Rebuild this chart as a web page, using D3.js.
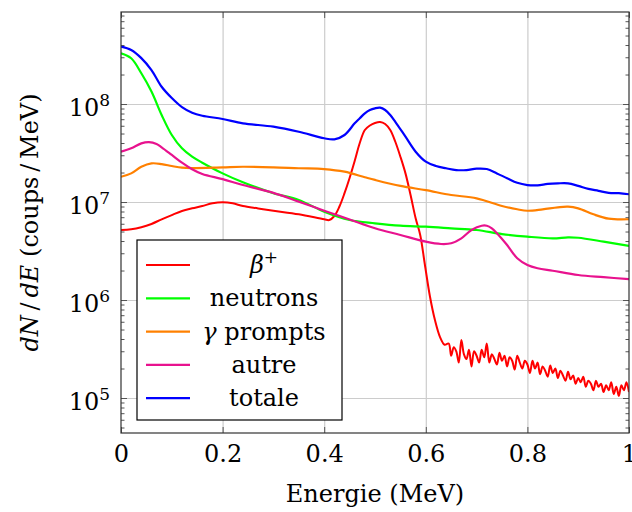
<!DOCTYPE html>
<html><head><meta charset="utf-8">
<script src="https://cdn.jsdelivr.net/npm/d3@7/dist/d3.min.js"></script>
<style>
body{margin:0;background:#fff}
svg{display:block}
text{font-family:"DejaVu Serif",serif;fill:#000}
</style>
</head><body>
<svg id="c" width="632" height="512"></svg>
<script>
// ---- data ----
const seriesLabels = ["β+", "neutrons", "γ prompts", "autre", "totale"];
const seriesColors = ["#ff0000", "#00ff00", "#ff8000", "#e8128e", "#0000ff"];

const betaE = [0,0.02,0.04,0.06,0.08,0.1,0.12,0.14,0.16,0.18,0.2,0.22,0.24,0.27,0.3,0.35,0.4,0.41,0.42,0.43,0.44,0.45,0.46,0.47,0.48,0.49,0.5,0.51,0.52,0.53,0.54,0.55,0.56,0.57,0.58,0.589,0.598,0.608,0.618,0.628,0.637,
  0.645,0.65,0.655,0.66,0.665,0.67,0.675,0.68,0.685,0.69,
  0.695,0.70,0.705,0.71,0.715,0.72,0.725,0.73,0.735,0.74,
  0.745,0.75,0.755,0.76,0.765,0.77,0.775,0.78,0.785,0.79,
  0.795,0.80,0.805,0.81,0.815,0.82,0.825,0.83,0.835,0.84,
  0.845,0.85,0.855,0.86,0.865,0.87,0.875,0.88,0.885,0.89,
  0.895,0.90,0.905,0.91,0.915,0.92,0.925,0.93,0.935,0.94,
  0.945,0.95,0.955,0.96,0.965,0.97,0.975,0.98,0.985,0.99,
  0.995,1.0];
const betaV = [5.18e6,5.26e6,5.52e6,5.97e6,6.66e6,7.36e6,8.09e6,8.62e6,9.1e6,9.7e6,9.93e6,9.7e6,9.1e6,8.6e6,8.15e6,7.49e6,6.66e6,6.55e6,7.2e6,9.0e6,1.23e7,1.76e7,2.62e7,4.0e7,5.43e7,6.04e7,6.4e7,6.55e7,6.25e7,5.43e7,4.12e7,2.9e7,1.96e7,1.18e7,6.82e6,4.61e6,2.33e6,1.10e6,6.25e5,4.19e5,3.5e5,
  3.6e5,2.7e5,3.3e5,3.0e5,2.3e5,3.9e5,2.8e5,2.5e5,3.1e5,2.1e5,
  3.0e5,2.7e5,2.3e5,3.1e5,2.6e5,3.6e5,2.3e5,2.8e5,2.5e5,2.2e5,
  2.9e5,2.4e5,2.7e5,2.1e5,2.6e5,2.4e5,1.95e5,2.7e5,2.3e5,2.0e5,
  2.4e5,2.2e5,1.8e5,2.4e5,2.0e5,2.3e5,1.75e5,2.1e5,1.9e5,1.65e5,
  2.15e5,1.8e5,2.0e5,1.6e5,1.9e5,1.7e5,1.5e5,1.85e5,1.55e5,1.7e5,
  1.4e5,1.6e5,1.45e5,1.65e5,1.3e5,1.5e5,1.4e5,1.2e5,1.5e5,1.3e5,
  1.4e5,1.15e5,1.35e5,1.2e5,1.45e5,1.1e5,1.3e5,1.05e5,1.35e5,1.2e5,
  1.45e5,1.15e5];

const neutronsE = [0,0.02,0.04,0.06,0.08,0.1,0.12,0.14,0.16,0.2,0.24,0.3,0.35,0.4,0.45,0.5,0.55,0.6,0.65,0.7,0.75,0.8,0.85,0.88,0.9,0.95,1.0];
const neutronsV = [3.29e8,2.93e8,2.06e8,1.34e8,7.73e7,4.83e7,3.53e7,2.90e7,2.52e7,1.96e7,1.59e7,1.23e7,1.05e7,7.96e6,6.55e6,6.06e6,5.73e6,5.60e6,5.39e6,5.18e6,4.71e6,4.43e6,4.26e6,4.36e6,4.32e6,3.94e6,3.56e6];

const gammaE = [0,0.02,0.04,0.06,0.08,0.1,0.12,0.14,0.2,0.24,0.3,0.35,0.4,0.44,0.48,0.5,0.55,0.6,0.65,0.7,0.75,0.78,0.8,0.83,0.86,0.88,0.9,0.93,0.96,1.0];
const gammaV = [1.81e7,1.96e7,2.29e7,2.48e7,2.44e7,2.33e7,2.24e7,2.22e7,2.26e7,2.29e7,2.26e7,2.21e7,2.17e7,2.04e7,1.79e7,1.68e7,1.46e7,1.32e7,1.18e7,1.09e7,9.1e6,8.43e6,8.15e6,8.43e6,8.83e6,8.96e6,8.62e6,7.49e6,6.76e6,6.67e6];

const autreE = [0,0.02,0.04,0.055,0.07,0.08,0.1,0.12,0.14,0.16,0.2,0.24,0.3,0.35,0.4,0.45,0.5,0.55,0.6,0.63,0.65,0.67,0.69,0.71,0.72,0.73,0.74,0.76,0.78,0.8,0.82,0.85,0.9,0.95,1.0];
const autreV = [3.26e7,3.53e7,3.97e7,4.09e7,3.91e7,3.61e7,3.02e7,2.52e7,2.16e7,1.93e7,1.71e7,1.49e7,1.24e7,1.01e7,8.15e6,6.63e6,5.39e6,4.61e6,3.94e6,3.73e6,3.79e6,4.26e6,5.18e6,5.73e6,5.73e6,5.39e6,4.80e6,3.64e6,2.67e6,2.28e6,2.11e6,1.99e6,1.80e6,1.71e6,1.63e6];

const totaleE = [0,0.02,0.04,0.06,0.08,0.1,0.12,0.14,0.16,0.2,0.24,0.3,0.35,0.4,0.42,0.44,0.46,0.47,0.48,0.49,0.5,0.51,0.52,0.53,0.54,0.56,0.58,0.6,0.62,0.64,0.66,0.68,0.7,0.72,0.74,0.76,0.78,0.8,0.82,0.84,0.86,0.88,0.9,0.92,0.94,0.96,0.98,1.0];
const totaleV = [3.85e8,3.56e8,2.94e8,2.22e8,1.50e8,1.15e8,9.3e7,8.15e7,7.6e7,7.03e7,6.35e7,5.87e7,5.21e7,4.47e7,4.36e7,4.83e7,6.35e7,7.15e7,8.04e7,8.69e7,9.04e7,9.17e7,8.69e7,7.73e7,6.59e7,4.64e7,3.26e7,2.58e7,2.33e7,2.21e7,2.12e7,2.12e7,2.19e7,2.17e7,1.96e7,1.75e7,1.57e7,1.49e7,1.48e7,1.53e7,1.55e7,1.55e7,1.46e7,1.36e7,1.30e7,1.24e7,1.23e7,1.20e7];

const xTickValues = [0, 0.2, 0.4, 0.6, 0.8, 1];
const xTickLabels = ["0", "0.2", "0.4", "0.6", "0.8", "1"];
const yTickValues = [1e5, 1e6, 1e7, 1e8];
const yTickExponents = ["5", "6", "7", "8"];
const xTitle = "Energie (MeV)";

// ---- layout ----
const L = 121, R = 629, T = 12, B = 433;
const svg = d3.select("#c");
const x = d3.scaleLinear().domain([0, 1]).range([L, R]);
const y = d3.scaleLog().domain([Math.pow(10, 4.643), Math.pow(10, 8.939)]).range([B, T]);

// grid
const gridColor = "#cccccc";
svg.append("g").attr("transform", `translate(0,${B})`)
  .call(d3.axisBottom(x).tickValues([0.2, 0.4, 0.6, 0.8]).tickSize(-(B - T)).tickFormat(""))
  .call(g => { g.select(".domain").remove(); g.selectAll("line").attr("stroke", gridColor).attr("stroke-width", 1.2); });
svg.append("g").attr("transform", `translate(${L},0)`)
  .call(d3.axisLeft(y).tickValues(yTickValues).tickSize(-(R - L)).tickFormat(""))
  .call(g => { g.select(".domain").remove(); g.selectAll("line").attr("stroke", gridColor).attr("stroke-width", 1.2); });

// minor tick positions (axis decoration)
const minor = [];
for (let k = 4; k <= 8; k++) for (let m = 2; m <= 9; m++) {
  const v = m * Math.pow(10, k);
  if (v > y.domain()[0] && v < y.domain()[1]) minor.push(v);
}
const tickColor = "#555";
function styleTicks(g) { g.select(".domain").remove(); g.selectAll("line").attr("stroke", tickColor).attr("stroke-width", 1); }

// x axes (ticks inward)
svg.append("g").attr("transform", `translate(0,${B})`)
  .call(d3.axisBottom(x).tickValues(xTickValues).tickSizeInner(-6).tickSizeOuter(0).tickPadding(12)
    .tickFormat((d, i) => xTickLabels[i]))
  .call(styleTicks)
  .call(g => g.selectAll("text").attr("font-size", 24).attr("font-family", "DejaVu Serif").attr("fill", "#000"));
svg.append("g").attr("transform", `translate(0,${T})`)
  .call(d3.axisTop(x).tickValues(xTickValues).tickSizeInner(-6).tickSizeOuter(0).tickFormat(""))
  .call(styleTicks);

// y axes
const yLeft = svg.append("g").attr("transform", `translate(${L},0)`)
  .call(d3.axisLeft(y).tickValues(yTickValues).tickSizeInner(-6).tickSizeOuter(0).tickFormat(""))
  .call(styleTicks);
yLeft.selectAll(".tick").each(function (d, i) {
  const t = d3.select(this).select("text")
    .attr("x", -11).attr("dy", null).attr("y", 11).attr("text-anchor", "end")
    .attr("font-size", 24).attr("font-family", "DejaVu Serif").attr("fill", "#000");
  t.text(null);
  t.append("tspan").text("10");
  t.append("tspan").attr("dy", -10).attr("font-size", 17).text(yTickExponents[i]);
});
svg.append("g").attr("transform", `translate(${L},0)`)
  .call(d3.axisLeft(y).tickValues(minor).tickSizeInner(-3.5).tickSizeOuter(0).tickFormat(""))
  .call(styleTicks);
svg.append("g").attr("transform", `translate(${R},0)`)
  .call(d3.axisRight(y).tickValues(yTickValues).tickSizeInner(-6).tickSizeOuter(0).tickFormat(""))
  .call(styleTicks);
svg.append("g").attr("transform", `translate(${R},0)`)
  .call(d3.axisRight(y).tickValues(minor).tickSizeInner(-3.5).tickSizeOuter(0).tickFormat(""))
  .call(styleTicks);

// curves
svg.append("clipPath").attr("id", "clip").append("rect")
  .attr("x", L).attr("y", T).attr("width", R - L).attr("height", B - T);
const series = [
  [betaE, betaV], [neutronsE, neutronsV], [gammaE, gammaV], [autreE, autreV], [totaleE, totaleV]
];
const smoothLine = d3.line().x(d => x(d[0])).y(d => y(d[1])).curve(d3.curveCatmullRom.alpha(0.5));
const plot = svg.append("g").attr("clip-path", "url(#clip)");
series.forEach((s, i) => {
  const pts = s[0].map((e, j) => [e, s[1][j]]);
  plot.append("path").datum(pts).attr("d", smoothLine)
    .attr("fill", "none").attr("stroke", seriesColors[i])
    .attr("stroke-width", i === 0 ? 2 : 2.2).attr("stroke-linejoin", "round");
});

// frame
svg.append("rect").attr("x", L).attr("y", T).attr("width", R - L).attr("height", B - T)
  .attr("fill", "none").attr("stroke", "#333").attr("stroke-width", 1.2);

// axis titles
svg.append("text").attr("x", (L + R) / 2).attr("y", 502).attr("text-anchor", "middle")
  .attr("font-size", 24).text(xTitle);
const yt = svg.append("text").attr("transform", `translate(38,${(T + B) / 2}) rotate(-90)`)
  .attr("text-anchor", "middle").attr("font-size", 24);
yt.append("tspan").attr("font-style", "italic").text("dN");
yt.append("tspan").text("\u2009/\u2009");
yt.append("tspan").attr("font-style", "italic").text("dE");
yt.append("tspan").text(" (coups\u2009/\u2009MeV)");

// legend
const lg = svg.append("g");
lg.append("rect").attr("x", 137).attr("y", 240).attr("width", 205).attr("height", 180)
  .attr("fill", "#fff").attr("stroke", "#000").attr("stroke-width", 1.2);
seriesLabels.forEach((lab, i) => {
  const ry = 265 + i * 33.3;
  lg.append("line").attr("x1", 146).attr("x2", 190).attr("y1", ry).attr("y2", ry)
    .attr("stroke", seriesColors[i]).attr("stroke-width", 2.2);
  const t = lg.append("text").attr("x", 264).attr("y", ry + 8).attr("text-anchor", "middle").attr("font-size", 24);
  if (i === 0) {
    t.append("tspan").attr("font-style", "italic").text("β");
    t.append("tspan").attr("dy", -10).attr("font-size", 17).text("+");
  } else if (i === 2) {
    t.append("tspan").attr("font-style", "italic").text("γ");
    t.append("tspan").text(" prompts");
  } else {
    t.text(lab);
  }
});
</script>
</body></html>
